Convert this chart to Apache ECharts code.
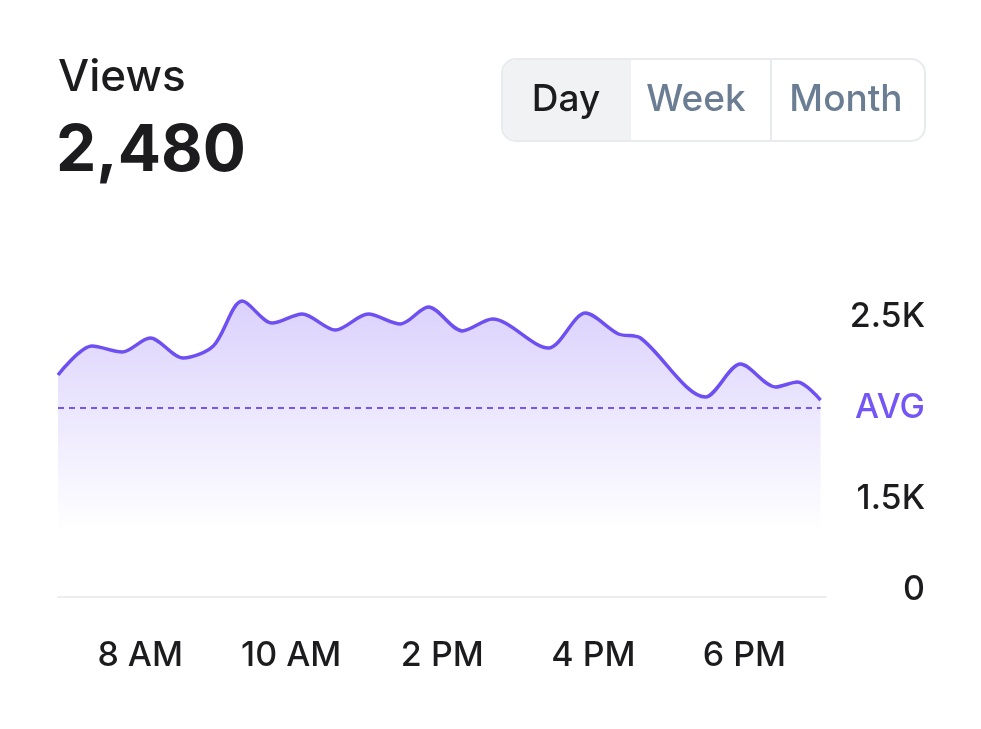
<!DOCTYPE html>
<html>
<head>
<meta charset="utf-8">
<script src="https://cdn.jsdelivr.net/npm/echarts@6/dist/echarts.min.js"></script>
<style>
  html, body { margin: 0; padding: 0; background: #fff; }
  #main { width: 981px; height: 729px; }
</style>
</head>
<body>
<div id="main"></div>
<script>
// x positions (axis units), label at 5,10,15,20,25
const xs = [2.28, 3.41, 4.40, 5.33, 6.42, 7.42, 8.38, 9.37, 10.36, 11.46, 12.55, 13.61,
  14.54, 15.66, 16.66, 18.51, 19.74, 20.83, 21.56, 23.71, 24.87, 26.03, 26.75, 27.52];
const views = [2220, 2379, 2346, 2423, 2313, 2379, 2626, 2505, 2555, 2467, 2555, 2500,
  2593, 2462, 2527, 2368, 2560, 2445, 2423, 2099, 2280, 2154, 2181, 2082];
const xTicks = [5, 10, 15, 20, 25];
const xLabels = ['8 AM', '10 AM', '2 PM', '4 PM', '6 PM'];
const yLabels = { 1000: '0', 1500: '1.5K', 2000: '{avg|AVG}', 2500: '2.5K' };
const avg = 2040;

const chart = echarts.init(document.getElementById('main'));
const font = 'Inter, "Noto Sans", sans-serif';

chart.setOption({
  backgroundColor: '#ffffff',
  animation: false,
  textStyle: { fontFamily: font },
  grid: { left: 58, right: 155, top: 233, bottom: 132 },
  xAxis: {
    type: 'value', min: 2.28, max: 27.7,
    splitLine: { show: false },
    axisTick: { show: false },
    axisLine: { show: true, lineStyle: { color: '#ebedf0', width: 2 } },
    axisLabel: {
      customValues: xTicks,
      formatter: v => xLabels[xTicks.indexOf(v)] || '',
      fontSize: 34, fontWeight: 500, color: '#1c1c1e', margin: 42, fontFamily: font
    }
  },
  yAxis: {
    type: 'value', position: 'right', min: 1000, max: 3000, interval: 500,
    splitLine: { show: false },
    axisLine: { show: false }, axisTick: { show: false },
    axisLabel: {
      formatter: v => yLabels[v] || '',
      align: 'right', margin: 99, fontSize: 34, fontWeight: 500, color: '#1c1c1e', fontFamily: font,
      padding: [0, 0, 14, 0],
      rich: { avg: { color: '#7356f5', fontSize: 34, fontWeight: 500, fontFamily: font } }
    }
  },
  series: [{
    type: 'line', smooth: 0.3, symbol: 'none',
    data: xs.map((x, i) => [x, views[i]]),
    lineStyle: { color: '#6e4ff2', width: 3.5 },
    areaStyle: {
      origin: 'start',
      color: new echarts.graphic.LinearGradient(0, 0, 0, 1, [
        { offset: 0, color: 'rgba(130,100,245,0.42)' },
        { offset: 0.45, color: 'rgba(130,100,245,0.18)' },
        { offset: 0.78, color: 'rgba(130,100,245,0)' }
      ])
    },
    markLine: {
      silent: true, symbol: 'none', label: { show: false },
      lineStyle: { color: '#7356f5', type: [6, 5], width: 2 },
      data: [[{ coord: [2.28, avg] }, { coord: [27.52, avg] }]]
    }
  }],
  graphic: [
    { type: 'text', left: 58, top: 56, style: { text: 'Views', font: '500 44px ' + font, fill: '#1c1c1e' } },
    { type: 'text', left: 56, top: 120, style: { text: '2,480', font: 'bold 64px ' + font, fill: '#1c1c1e' } },
    { type: 'rect', shape: { x: 502, y: 59, width: 423, height: 82, r: 14 },
      style: { fill: '#fff', stroke: '#e8eaed', lineWidth: 2 } },
    { type: 'rect', shape: { x: 503, y: 60, width: 128, height: 80, r: [13, 0, 0, 13] },
      style: { fill: '#f1f2f4' } },
    { type: 'line', shape: { x1: 771, y1: 60, x2: 771, y2: 140 }, style: { stroke: '#e8eaed', lineWidth: 2 } },
    { type: 'text', x: 566, y: 100, style: { text: 'Day', font: '500 37px ' + font, fill: '#1c1c1e', align: 'center', verticalAlign: 'middle' } },
    { type: 'text', x: 696, y: 100, style: { text: 'Week', font: '500 37px ' + font, fill: '#6a7d92', align: 'center', verticalAlign: 'middle' } },
    { type: 'text', x: 846, y: 100, style: { text: 'Month', font: '500 37px ' + font, fill: '#6a7d92', align: 'center', verticalAlign: 'middle' } }
  ]
});
</script>
</body>
</html>
